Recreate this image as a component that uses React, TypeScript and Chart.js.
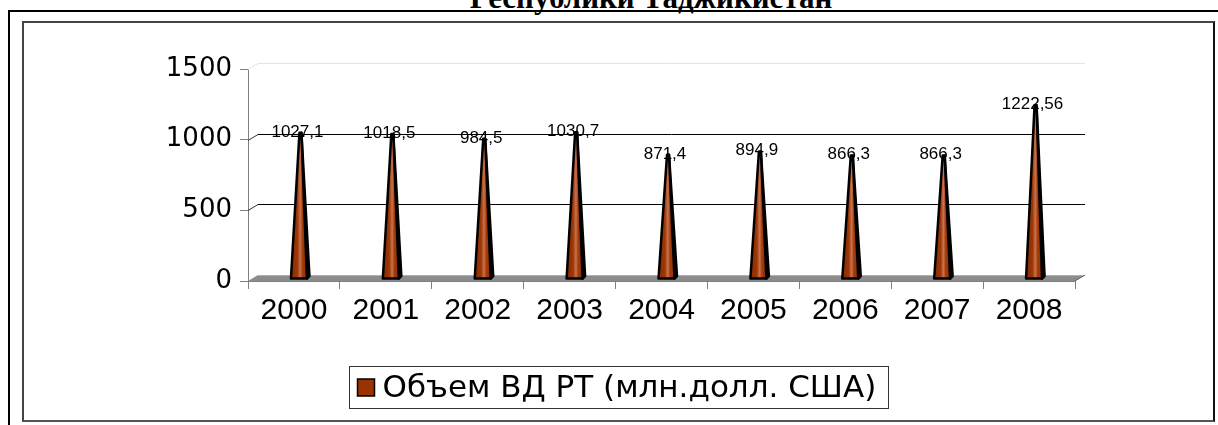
import React, { useEffect, useRef } from "react";
import { Chart, registerables } from "chart.js";

Chart.register(...registerables);

const chartTitle = "Республики Таджикистан";
const seriesLabel = "Объем ВД РТ (млн.долл. США)";
const categories = ["2000", "2001", "2002", "2003", "2004", "2005", "2006", "2007", "2008"];
const values = [1027.1, 1018.5, 984.5, 1030.7, 871.4, 894.9, 866.3, 866.3, 1222.56];
const valueLabels = ["1027,1", "1018,5", "984,5", "1030,7", "871,4", "894,9", "866,3", "866,3", "1222,56"];
const yTickValues = [0, 500, 1000, 1500];

const FILL = "#993300";
const DX = 10;
const DY = 6;

const threeDPlugin = {
  id: "threeD",
  beforeDatasetsDraw(chart: any) {
    const { ctx, chartArea } = chart;
    const y = chart.scales.y;
    const { left, right, bottom } = chartArea;
    ctx.save();
    yTickValues.forEach((v) => {
      if (v === 0) return;
      const py = Math.round(y.getPixelForValue(v)) + 0.5;
      ctx.strokeStyle = v === 1500 ? "#e4e4e4" : "#000";
      ctx.lineWidth = 1;
      ctx.beginPath();
      ctx.moveTo(left + DX, py - DY);
      ctx.lineTo(right + DX, py - DY);
      ctx.stroke();
      ctx.strokeStyle = v === 1500 ? "#e4e4e4" : "#333";
      ctx.beginPath();
      ctx.moveTo(left, py);
      ctx.lineTo(left + DX, py - DY);
      ctx.stroke();
    });
    ctx.fillStyle = "#8c8c8c";
    ctx.beginPath();
    ctx.moveTo(left, bottom);
    ctx.lineTo(right, bottom);
    ctx.lineTo(right + DX, bottom - DY);
    ctx.lineTo(left + DX, bottom - DY);
    ctx.closePath();
    ctx.fill();
    ctx.strokeStyle = "#b0b0b0";
    ctx.beginPath();
    ctx.moveTo(left + DX, bottom - DY + 0.5);
    ctx.lineTo(right + DX, bottom - DY + 0.5);
    ctx.stroke();
    ctx.strokeStyle = "#606060";
    ctx.beginPath();
    ctx.moveTo(right, bottom);
    ctx.lineTo(right + DX, bottom - DY);
    ctx.stroke();
    ctx.restore();
  },
  beforeDatasetDraw() {
    return false;
  },
  afterDatasetsDraw(chart: any) {
    const { ctx } = chart;
    const meta = chart.getDatasetMeta(0);
    ctx.save();
    meta.data.forEach((el: any, i: number) => {
      const cx = el.x + 5;
      const half = 8;
      const floorY = el.base - 2;
      const tipX = el.x + 6.5;
      const tipY = el.y - DY / 2;
      ctx.beginPath();
      ctx.moveTo(cx + half, floorY);
      ctx.lineTo(cx + half + 2.5, floorY - 2.5);
      ctx.lineTo(tipX + 1, tipY);
      ctx.closePath();
      ctx.fillStyle = "#6e2200";
      ctx.fill();
      ctx.lineWidth = 2.5;
      ctx.lineJoin = "round";
      ctx.strokeStyle = "#000";
      ctx.stroke();
      const g = ctx.createLinearGradient(cx - half, 0, cx + half, 0);
      g.addColorStop(0, "#8a2c00");
      g.addColorStop(0.4, "#9c3606");
      g.addColorStop(0.58, "#c8734c");
      g.addColorStop(0.72, "#a23c0c");
      g.addColorStop(1, "#8f2f00");
      ctx.beginPath();
      ctx.moveTo(cx - half, floorY);
      ctx.lineTo(cx + half, floorY);
      ctx.lineTo(tipX + 1, tipY);
      ctx.lineTo(tipX - 1, tipY);
      ctx.closePath();
      ctx.fillStyle = g;
      ctx.fill();
      ctx.stroke();
      ctx.fillStyle = "#000";
      ctx.font = "17px 'Liberation Sans', Arial, sans-serif";
      ctx.textAlign = "center";
      ctx.textBaseline = "middle";
      ctx.fillText(valueLabels[i], tipX - 3, tipY - 1);
    });
    ctx.restore();
  },
  afterDraw(chart: any) {
    const { ctx } = chart;
    const ds = chart.data.datasets[0];
    ctx.save();
    ctx.font = "31px 'DejaVu Sans', sans-serif";
    const tw = ctx.measureText(ds.label).width;
    const sq = 17;
    const padL = 8;
    const gap = 8;
    const padR = 12;
    const w = padL + sq + gap + tw + padR;
    const h = 42;
    const cxL = 618.5;
    const bx = Math.round(cxL - w / 2) + 0.5;
    const by = 366.5;
    ctx.strokeStyle = "#333";
    ctx.lineWidth = 1;
    ctx.strokeRect(bx, by, Math.round(w), h);
    const sy = Math.round(by + h / 2 - sq / 2);
    ctx.fillStyle = FILL;
    ctx.fillRect(bx + padL, sy, sq, sq);
    ctx.strokeStyle = "#000";
    ctx.lineWidth = 1.5;
    ctx.strokeRect(bx + padL, sy, sq, sq);
    ctx.fillStyle = "#000";
    ctx.textAlign = "left";
    ctx.textBaseline = "middle";
    ctx.fillText(ds.label, bx + padL + sq + gap, by + h / 2 + 1);
    ctx.restore();
  },
};

export default function App() {
  const canvasRef = useRef<HTMLCanvasElement | null>(null);

  useEffect(() => {
    if (!canvasRef.current) return;
    const chart = new Chart(canvasRef.current, {
      type: "bar",
      data: {
        labels: categories,
        datasets: [
          {
            label: seriesLabel,
            data: values,
            backgroundColor: FILL,
            borderColor: "#000",
            borderWidth: 1,
          },
        ],
      },
      options: {
        animation: false,
        responsive: false,
        devicePixelRatio: 1,
        layout: { padding: { left: 0, right: 143, top: 69, bottom: 0 } },
        plugins: {
          legend: { display: false },
          title: { display: false },
          tooltip: { enabled: false },
        },
        scales: {
          x: {
            afterFit: (s: any) => {
              s.height = 144;
            },
            grid: {
              display: true,
              drawOnChartArea: false,
              drawTicks: true,
              tickLength: 8,
              color: "#808080",
              offset: true,
            },
            border: { display: true, color: "#808080", width: 1 },
            ticks: {
              color: "#000",
              padding: 4,
              font: { family: "'Liberation Sans', Arial, sans-serif", size: 30 },
              maxRotation: 0,
            },
          },
          y: {
            min: 0,
            max: 1500,
            afterFit: (s: any) => {
              s.width = 248;
            },
            afterBuildTicks: (s: any) => {
              s.ticks = yTickValues.map((v) => ({ value: v }));
            },
            grid: {
              display: true,
              drawOnChartArea: false,
              drawTicks: true,
              tickLength: 8,
              color: "#808080",
            },
            border: { display: true, color: "#808080", width: 1 },
            ticks: {
              color: "#000",
              padding: 8,
              font: { family: "'DejaVu Sans', sans-serif", size: 26 },
              callback: (v: any) => String(v),
            },
          },
        },
      },
      plugins: [threeDPlugin],
    });
    return () => chart.destroy();
  }, []);

  return (
    <div style={{ position: "fixed", left: 0, top: 0, width: 1218, height: 425, overflow: "hidden", background: "#fff" }}>
      <div
        style={{
          position: "absolute",
          left: 651,
          top: -17,
          transform: "translateX(-50%)",
          whiteSpace: "nowrap",
          fontFamily: "'Liberation Serif', 'Times New Roman', serif",
          fontWeight: "bold",
          fontSize: 31,
          lineHeight: "30px",
          color: "#000",
        }}
      >
        {chartTitle}
      </div>
      <div style={{ position: "absolute", left: 8, top: 10, width: 1210, height: 2, background: "#000" }} />
      <div style={{ position: "absolute", left: 8, top: 10, width: 2, height: 415, background: "#000" }} />
      <div
        style={{
          position: "absolute",
          left: 22,
          top: 21,
          width: 1189,
          height: 397,
          borderTop: "2px solid #444",
          borderLeft: "2px solid #444",
          borderRight: "2px solid #111",
          borderBottom: "2px solid #555",
        }}
      />
      <canvas ref={canvasRef} width={1218} height={425} style={{ position: "absolute", left: 0, top: 0 }} />
    </div>
  );
}
